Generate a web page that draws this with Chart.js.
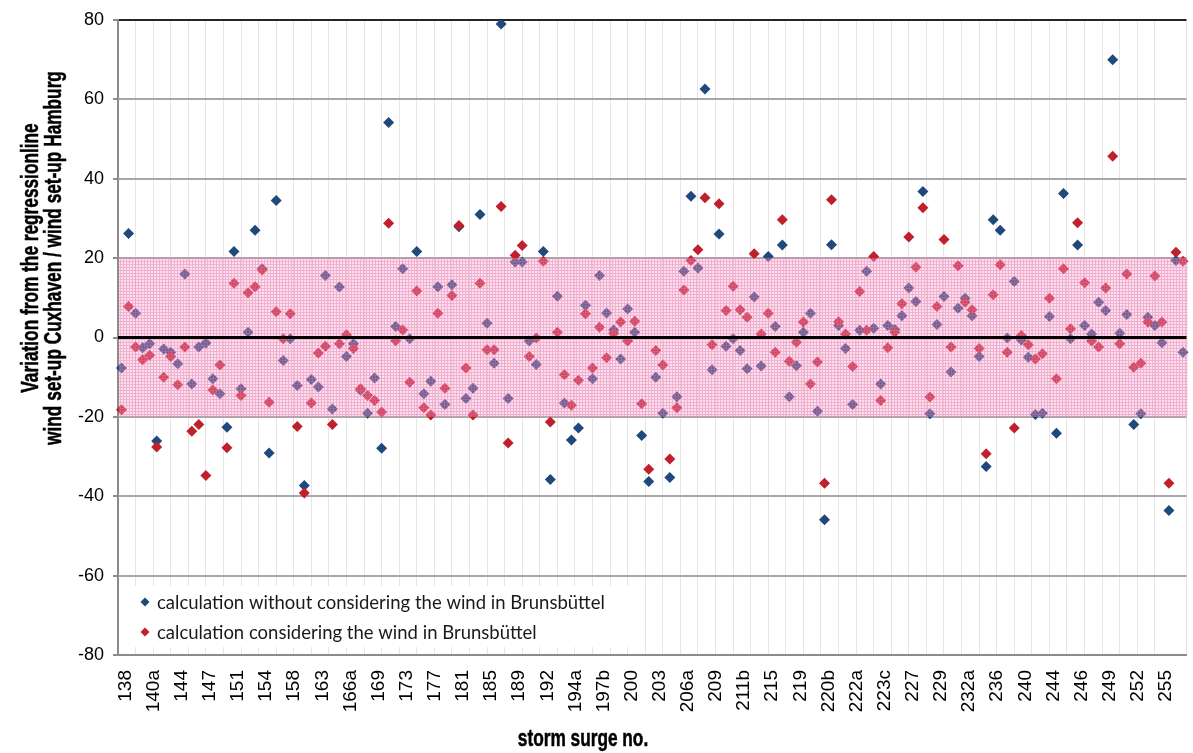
<!DOCTYPE html>
<html>
<head>
<meta charset="utf-8">
<title>Variation from the regressionline</title>
<script src="https://cdn.jsdelivr.net/npm/chart.js@4.4.0/dist/chart.umd.min.js"></script>
<style>
    html, body { margin: 0; padding: 0; background: #ffffff; }
    #wrap { position: relative; width: 1193px; height: 753px; }
</style>
</head>
<body>
<div id="wrap"><canvas id="chart"></canvas></div>
<script>
// --- DATA ---
// only every 4th storm surge number is printed on the axis
const tickLabels = ['138', '140a', '144', '147', '151', '154', '158', '163', '166a', '169',
    '173', '177', '181', '185', '189', '192', '194a', '197b', '200', '203',
    '206a', '209', '211b', '215', '219', '220b', '222a', '223c', '227', '229',
    '232a', '236', '240', '244', '246', '249', '252', '255'];
const labelEvery = 4;
const surgeCount = 152;

// calculation without considering the wind in Brunsbüttel (blue)
const withoutWind = [
    -7.7, 26.2, 6.1, -2.6, -1.6, -26.1, -2.9, -3.7, -6.6, 16.0,
    -11.7, -2.4, -1.4, -10.4, -14.2, -22.6, 21.7, -12.9, 1.3, 27.0,
    17.3, -29.1, 34.5, -5.8, -0.3, -12.1, -37.3, -10.6, -12.5, 15.6,
    -18.0, 12.7, -4.8, -1.6, -13.3, -19.1, -10.2, -27.9, 54.2, 2.8,
    17.3, -0.3, 21.7, -14.2, -11.0, 12.8, -16.9, 13.3, 27.9, -15.4,
    -12.8, 31.0, 3.6, -6.5, 79.0, -15.4, 19.0, 19.0, -0.9, -6.8,
    21.7, -35.8, 10.4, -16.5, -25.8, -22.8, 8.1, -10.4, 15.6, 6.2,
    1.9, -5.4, 7.2, 1.3, -24.7, -36.3, -10.0, -19.1, -35.3, -14.9,
    16.7, 35.6, 17.5, 62.6, -8.1, 26.1, -2.2, -0.3, -3.3, -7.9,
    10.2, -7.2, 20.4, 2.8, 23.3, -14.9, -7.1, 1.3, 6.1, -18.6,
    -45.9, 23.4, 3.0, -2.8, -16.9, 1.8, 16.7, 2.3, -11.7, 3.0,
    2.0, 5.5, 12.5, 9.1, 36.8, -19.2, 3.3, 10.3, -8.7, 7.4,
    9.9, 5.5, -4.8, -32.5, 29.7, 27.0, -0.1, 14.1, -0.6, -5.0,
    -19.4, -19.1, 5.3, -24.1, 36.3, -0.3, 23.3, 3.0, 0.9, 8.9,
    6.8, 70.0, 1.1, 5.8, -21.9, -19.2, 5.1, 3.0, -1.3, -43.6,
    19.4, -3.7
];

// calculation considering the wind in Brunsbüttel (red)
const withWind = [
    -18.2, 7.8, -2.4, -5.6, -4.5, -27.6, -10.0, -4.8, -11.9, -2.4,
    -23.6, -21.9, -34.8, -13.2, -6.9, -27.8, 13.7, -14.6, 11.3, 12.8,
    17.0, -16.3, 6.5, -0.3, 6.0, -22.4, -39.2, -16.5, -3.9, -2.2,
    -21.9, -1.6, 0.7, -2.8, -12.9, -14.6, -15.9, -18.8, 28.8, -0.8,
    1.9, -11.3, 11.7, -17.7, -19.5, 6.1, -12.8, 10.6, 28.2, -7.7,
    -19.5, 13.7, -3.1, -3.1, 33.0, -26.6, 20.7, 23.2, -4.8, -0.1,
    19.2, -21.3, 1.3, -9.4, -17.1, -10.8, 6.0, -7.7, 2.6, -5.1,
    1.1, 3.9, -0.9, 4.1, -16.7, -33.2, -3.3, -6.9, -30.6, -17.7,
    12.0, 19.4, 22.1, 35.2, -1.8, 33.7, 6.8, 12.9, 7.0, 5.1,
    21.1, 0.9, 6.1, -3.7, 29.7, -6.0, -1.2, 3.9, -11.7, -6.2,
    -36.7, 34.7, 4.0, 0.9, -7.3, 11.6, 1.8, 20.4, -15.9, -2.6,
    1.3, 8.5, 25.3, 17.7, 32.7, -15.0, 7.8, 24.7, -2.4, 18.1,
    8.9, 7.0, -2.8, -29.3, 10.8, 18.3, -3.7, -22.8, 0.5, -1.8,
    -5.4, -4.1, 9.9, -10.4, 17.3, 2.2, 28.9, 13.8, -0.9, -2.4,
    12.5, 45.7, -1.6, 16.0, -7.5, -6.5, 3.9, 15.5, 3.9, -36.7,
    21.5, 19.2
];

const yMin = -80;
const yMax = 80;
const yStep = 20;
const bandLimits = [-20, 20];   // pink tolerance band

const seriesNames = [
    'calculation without considering the wind in Brunsbüttel',
    'calculation considering the wind in Brunsbüttel'
];
const seriesColors = ['#1f497d', '#c0202b'];

// category list: printed label on every 4th surge, the others left blank
const categories = [];
for (let i = 0; i < surgeCount; i++) {
    categories.push(i % labelEvery === 0 ? tickLabels[i / labelEvery] : '');
}

// --- FONTS ---
const axisFont = "'Liberation Sans', Arial, sans-serif";
Chart.defaults.font.family = axisFont;
Chart.defaults.color = '#000000';

// --- PLUGINS ---
function makeBandPattern(ctx) {
    const c = document.createElement('canvas');
    c.width = 3;
    c.height = 3;
    const p = c.getContext('2d');
    p.fillStyle = 'rgba(242,160,200,0.33)';
    p.fillRect(0, 0, 3, 3);
    p.fillStyle = 'rgba(232,110,170,0.42)';
    p.fillRect(0, 0, 3, 1);
    p.fillRect(0, 1, 1, 2);
    return ctx.createPattern(c, 'repeat');
}

// band is laid over the points, like in the original, then the zero line
const bandPlugin = {
    id: 'band',
    afterDatasetsDraw(chart) {
        const { ctx, chartArea, scales: { y } } = chart;
        const top = y.getPixelForValue(bandLimits[1]);
        const bottom = y.getPixelForValue(bandLimits[0]);
        ctx.save();
        ctx.fillStyle = makeBandPattern(ctx);
        ctx.fillRect(chartArea.left + 1, top, chartArea.right - chartArea.left, bottom - top);

        const y0 = y.getPixelForValue(0);
        ctx.strokeStyle = '#000000';
        ctx.lineWidth = 3;
        ctx.beginPath();
        ctx.moveTo(chartArea.left, y0);
        ctx.lineTo(chartArea.right, y0);
        ctx.stroke();
        ctx.restore();
    }
};

function diamond(ctx, x, y, r, color) {
    ctx.fillStyle = color;
    ctx.beginPath();
    ctx.moveTo(x, y - r);
    ctx.lineTo(x + r, y);
    ctx.lineTo(x, y + r);
    ctx.lineTo(x - r, y);
    ctx.closePath();
    ctx.fill();
}

// legend sits inside the plot, lower left, on a white box
const insideLegend = {
    id: 'insideLegend',
    afterDatasetsDraw(chart) {
        const { ctx, chartArea } = chart;
        ctx.save();
        ctx.fillStyle = '#ffffff';
        ctx.fillRect(chartArea.left + 1, 586, 517, 61);
        ctx.font = "18.5px Lato, 'Liberation Sans', sans-serif";
        ctx.textBaseline = 'middle';
        ctx.textAlign = 'left';
        const rows = [602, 632];
        rows.forEach((ry, i) => {
            diamond(ctx, 145, ry, 4.5, seriesColors[i]);
            ctx.fillStyle = '#1a1a1a';
            ctx.fillText(seriesNames[i], 157, ry + 1);
        });
        ctx.restore();
    }
};

// bold narrow text: Arial bold squeezed along the writing direction
function narrowText(ctx, text, x, y, angle) {
    ctx.save();
    ctx.translate(x, y);
    ctx.rotate(angle);
    ctx.scale(0.75, 1);
    ctx.fillText(text, 0, 0);
    ctx.lineWidth = 0.5;
    ctx.strokeText(text, 0, 0);
    ctx.restore();
}

// axis titles are placed where the original has them (not centred on the plot)
const axisTitles = {
    id: 'axisTitles',
    afterDraw(chart) {
        const { ctx } = chart;
        ctx.save();
        ctx.fillStyle = '#000000';
        ctx.strokeStyle = '#000000';
        ctx.font = "bold 23px 'Liberation Sans', Arial, sans-serif";
        ctx.textAlign = 'center';
        ctx.textBaseline = 'middle';
        narrowText(ctx, 'Variation from the regressionline', 32, 258, -Math.PI / 2);
        narrowText(ctx, 'wind set-up Cuxhaven / wind set-up Hamburg', 55, 258, -Math.PI / 2);
        narrowText(ctx, 'storm surge no.', 583, 740, 0);
        ctx.restore();
    }
};

// --- CHART ---
const ctx = document.getElementById('chart').getContext('2d');
const chart = new Chart(ctx, {
    type: 'line',
    data: {
        labels: categories,
        datasets: [
            {
                label: seriesNames[0],
                data: withoutWind,
                showLine: false,
                pointStyle: 'rectRot',
                pointRadius: 5.5,
                pointHoverRadius: 6.5,
                pointBackgroundColor: seriesColors[0],
                pointBorderColor: seriesColors[0],
                pointBorderWidth: 0,
                borderColor: seriesColors[0],
                backgroundColor: seriesColors[0],
                order: 1
            },
            {
                label: seriesNames[1],
                data: withWind,
                showLine: false,
                pointStyle: 'rectRot',
                pointRadius: 5.5,
                pointHoverRadius: 6.5,
                pointBackgroundColor: seriesColors[1],
                pointBorderColor: seriesColors[1],
                pointBorderWidth: 0,
                borderColor: seriesColors[1],
                backgroundColor: seriesColors[1],
                order: 0 // red on top
            }
        ]
    },
    options: {
        responsive: true,
        maintainAspectRatio: false,
        animation: false,
        layout: { padding: { top: 20, right: 0, bottom: 0, left: 0 } },
        plugins: {
            legend: { display: false },
            tooltip: {
                callbacks: {
                    label: (c) => `${c.dataset.label}: ${c.parsed.y}`
                }
            }
        },
        scales: {
            x: {
                type: 'category',
                offset: true,
                grid: { display: false },
                border: { display: true, color: '#8c8c8c', width: 2 },
                ticks: {
                    autoSkip: false,
                    minRotation: 90,
                    maxRotation: 90,
                    padding: 7,
                    labelOffset: 4,
                    font: { size: 19 },
                    color: '#000000',
                    callback: (v, i) => categories[i]
                },
                afterFit: (s) => { s.height = 98; s.paddingLeft = 0; s.paddingRight = 0; }
            },
            // grid only: vertical lines every 2.5 surges like the original sheet
            x2: {
                type: 'linear',
                position: 'top',
                min: 0,
                max: surgeCount,
                grid: { color: '#e6e6e6', lineWidth: 1, drawTicks: false },
                border: { display: false },
                ticks: { display: false, stepSize: 2.5 },
                afterFit: (s) => { s.height = 0; s.paddingLeft = 0; s.paddingRight = 0; }
            },
            y: {
                min: yMin,
                max: yMax,
                ticks: {
                    stepSize: yStep,
                    padding: 9,
                    font: { size: 18 },
                    color: '#000000'
                },
                grid: {
                    color: (c) => {
                        const v = c.tick ? c.tick.value : null;
                        if (v === 0) return 'rgba(0,0,0,0)';
                        if (v === yMax) return '#262626';
                        if (v === yMin) return '#8c8c8c';
                        return '#a8a8a8';
                    },
                    lineWidth: 2,
                    tickLength: 5,
                    tickColor: '#8c8c8c',
                    tickWidth: 2
                },
                border: { display: true, color: '#8c8c8c', width: 2 },
                afterFit: (s) => { s.width = 118; s.paddingTop = 0; s.paddingBottom = 0; }
            }
        }
    },
    plugins: [bandPlugin, insideLegend, axisTitles]
});
</script>
</body>
</html>
